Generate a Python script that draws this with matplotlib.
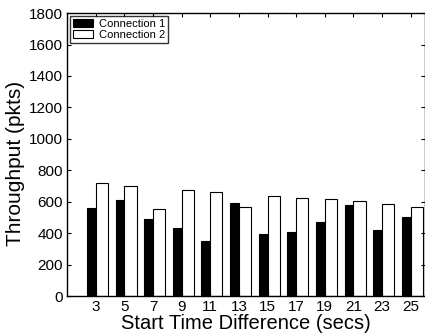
import numpy as np
import matplotlib
matplotlib.use("Agg")
import matplotlib.pyplot as plt

# start time differences (secs)
start_diff = [3, 5, 7, 9, 11, 13, 15, 17, 19, 21, 23, 25]
# throughput in pkts
conn1 = [563, 613, 493, 434, 347, 589, 396, 406, 474, 579, 421, 502]
conn2 = [719, 700, 553, 672, 659, 568, 634, 621, 615, 602, 587, 564]
yticks = [0, 200, 400, 600, 800, 1000, 1200, 1400, 1600, 1800]

plt.rcParams["font.family"] = ["Liberation Sans", "DejaVu Sans"]

fig = plt.figure(figsize=(4.25, 3.36), dpi=100)
ax = fig.add_axes([0.158, 0.119, 0.842, 0.842])

x = np.array(start_diff)
ax.bar(x - 0.62, conn1, width=0.62, align="edge", color="black",
       edgecolor="black", linewidth=0.8, label="Connection 1")
ax.bar(x, conn2, width=0.85, align="edge", color="white",
       edgecolor="black", linewidth=0.8, label="Connection 2")

ax.set_xlim(1, 26)
ax.set_ylim(0, 1800)
ax.set_xticks(start_diff)
ax.set_yticks(yticks)
ax.tick_params(direction="in", length=3, labelsize=11, top=True, right=True,
               width=0.8, pad=3)
for s in ax.spines.values():
    s.set_linewidth(1.0)

# axis labels, placed where they sit in the original
ax.set_xlabel("Start Time Difference (secs)", fontsize=14.5)
ax.set_ylabel("Throughput (pkts)", fontsize=15)
ax.xaxis.set_label_coords(0.5, -0.064)
ax.yaxis.set_label_coords(-0.118, 0.47)

leg = ax.legend(loc="upper left", fontsize=8, frameon=True, fancybox=False,
                borderpad=0.3, labelspacing=0.05, handlelength=1.8,
                handleheight=0.75, handletextpad=0.5, borderaxespad=0.25)
leg.get_frame().set_edgecolor("black")
leg.get_frame().set_linewidth(1.0)

fig.savefig("out.png", dpi=100)
